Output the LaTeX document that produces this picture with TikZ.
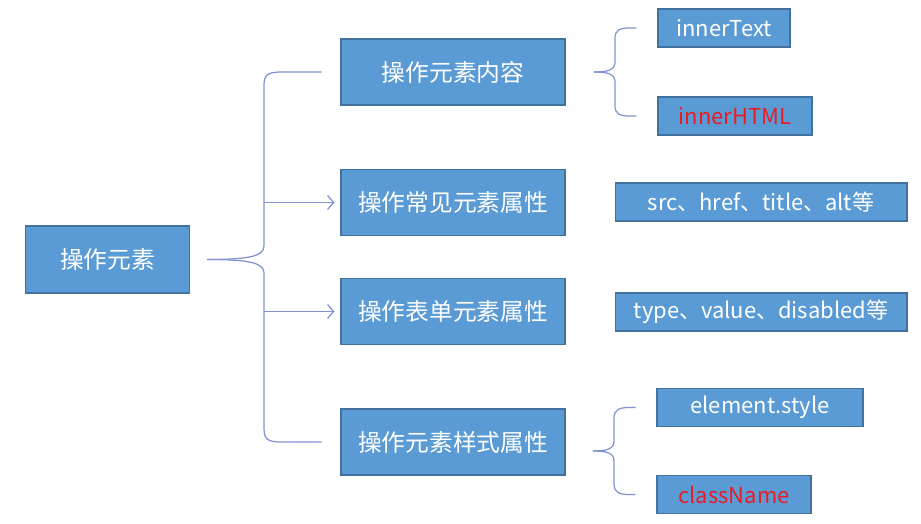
\documentclass[tikz,border=0pt]{standalone}
\usepackage{fontspec}
\setmainfont{Noto Sans CJK SC}
\usetikzlibrary{arrows.meta}
\definecolor{boxfill}{RGB}{91,155,213}
\definecolor{boxline}{RGB}{65,113,156}
\definecolor{bracecol}{RGB}{128,146,210}
\definecolor{hotred}{RGB}{232,28,36}
\tikzset{
        box/.style={draw=boxline, fill=boxfill, line width=0.6pt, text=white, inner sep=0pt, align=center},
        % Main boxes
        box_main/.style={box, minimum width=4.48cm, minimum height=1.32cm, font=\fontsize{13.5}{16}\selectfont},
        % Leaf boxes on the right
        box_leaf/.style={box, minimum height=0.76cm, font=\fontsize{12.5}{14}\selectfont},
        % Braces and arrows
        brace/.style={draw=bracecol, line width=0.7pt},
        link/.style={brace, -{Straight Barb[length=3.5pt,width=8pt]}, shorten >=0.12cm}
}
\begin{document}
\begin{tikzpicture}[x=0.02cm, y=-0.02cm]
    \useasboundingbox (0,0) rectangle (921,524);
    \node[box_main, minimum width=3.28cm, minimum height=1.34cm] (root) at (107.5,259.5) {操作元素};
    \node[box_main] (content) at (453,72) {操作元素内容};
    \node[box_main] (common) at (453,202.5) {操作常见元素属性};
    \node[box_main] (form) at (453,311.5) {操作表单元素属性};
    \node[box_main] (style) at (453,442) {操作元素样式属性};

    \node[box_leaf, minimum width=2.64cm] (innertext) at (724,28) {innerText};
    \node[box_leaf, minimum width=3.08cm, text=hotred] (innerhtml) at (735,116) {innerHTML};
    \node[box_leaf, minimum width=5.84cm] (commonattr) at (761,202) {src、href、title、alt等};
    \node[box_leaf, minimum width=5.84cm] (formattr) at (761,312) {type、value、disabled等};
    \node[box_leaf, minimum width=4.12cm] (elstyle) at (760,407.5) {element.style};
    \node[box_leaf, minimum width=3.08cm, text=hotred] (classname) at (734,494.5) {className};

    % big brace
    \coordinate (bigtip) at (207,259.5);
    \draw[brace] ([xshift=-0.38cm]content.west) -- (282,72) .. controls (267,72) and (264,75) .. (264,86)
        -- (264,246) .. controls (264,256) and (250,259.5) .. (bigtip);
    \draw[brace] ([xshift=-0.38cm]style.west) -- (282,442) .. controls (267,442) and (264,439) .. (264,428)
        -- (264,273) .. controls (264,263) and (250,259.5) .. (bigtip);
    \coordinate (spine) at (264,259.5);
    \draw[link] (spine |- common.west) -- (common.west);
    \draw[link] (spine |- form.west) -- (form.west);

    % small braces
    \coordinate (toptip) at (594,72);
    \draw[brace] ([xshift=-0.42cm]innertext.west) -- (630,28) .. controls (620,28) and (615,30) .. (615,38)
        -- (615,62) .. controls (615,70) and (608,72) .. (toptip);
    \draw[brace] ([xshift=-0.42cm]innerhtml.west) -- (630,116) .. controls (620,116) and (615,114) .. (615,106)
        -- (615,82) .. controls (615,74) and (608,72) .. (toptip);
    \coordinate (bottip) at (593,451);
    \draw[brace] ([xshift=-0.42cm]elstyle.west) -- (629,407.5) .. controls (619,407.5) and (614,410) .. (614,418)
        -- (614,441) .. controls (614,449) and (607,451) .. (bottip);
    \draw[brace] ([xshift=-0.42cm]classname.west) -- (629,494.5) .. controls (619,494.5) and (614,492) .. (614,484)
        -- (614,461) .. controls (614,453) and (607,451) .. (bottip);
\end{tikzpicture}
\end{document}
